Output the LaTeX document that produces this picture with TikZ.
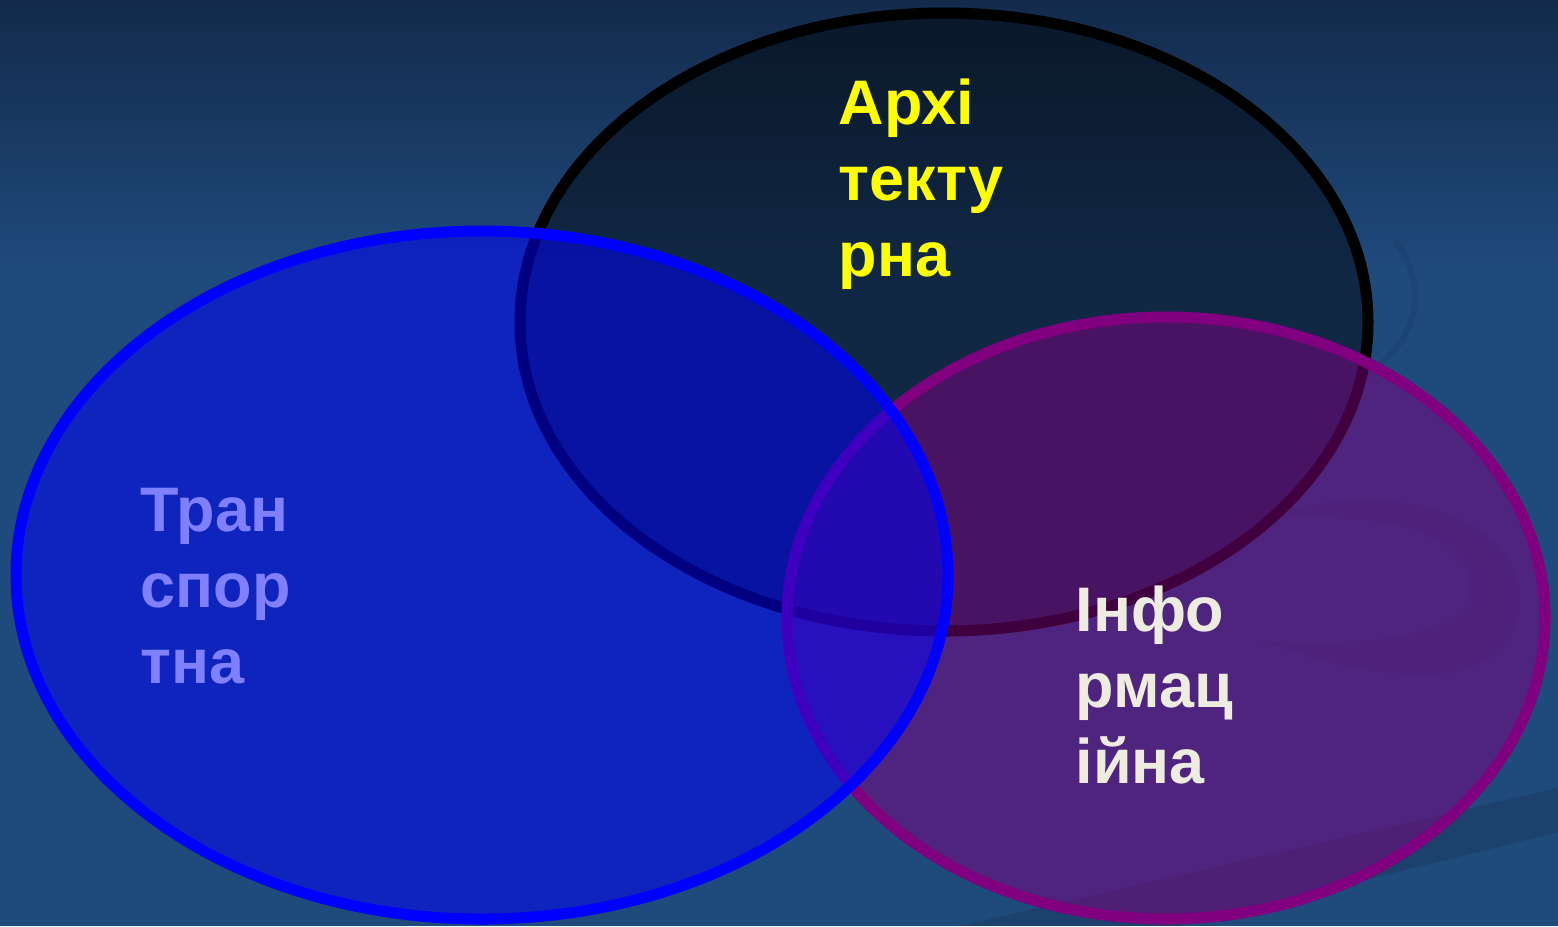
\documentclass[tikz,border=0pt]{standalone}
\usepackage{fontspec}
\setmainfont{Liberation Sans}
\usepackage{tikz}
\usetikzlibrary{positioning}
\definecolor{bgtop}{HTML}{132A4B}
\definecolor{bgmid}{HTML}{1F4A7C}
\definecolor{archcol}{HTML}{FFFF00}
\definecolor{transcol}{HTML}{8080FF}
\definecolor{infocol}{HTML}{EEECE1}
\definecolor{infoline}{HTML}{800080}

\begin{document}
\begin{tikzpicture}[
x=0.01cm, y=-0.01cm,
MyEllipses/.style={line width=1.1mm},
MyLabels/.style={anchor=base west, inner sep=0pt, align=left,
  font=\bfseries\fontsize{17.9pt}{21.6pt}\selectfont},
Swirl/.style={fill=black, fill opacity=0.05, draw=none}
]
% background
\useasboundingbox (0,0) rectangle (1558,926);
\shade[top color=bgtop, bottom color=bgmid] (0,0) rectangle (1558,270);
\fill[bgmid] (0,269) rectangle (1558,926);

% faint swirls of the slide background
\fill[Swirl, fill opacity=0.12] (960,926) -- (1558,788) -- (1558,832) -- (1180,926) -- cycle;
\fill[Swirl] (1250,520) .. controls (1400,470) and (1520,520) .. (1520,600)
  .. controls (1520,680) and (1420,700) .. (1260,640)
  .. controls (1380,650) and (1470,630) .. (1470,590)
  .. controls (1470,530) and (1380,510) .. (1250,520) -- cycle;
\draw[black, opacity=0.06, line width=0.6mm] (1395,240) .. controls (1430,290) and (1420,340) .. (1360,380);

% the three circles
\coordinate (Arch) at (944,322);
\coordinate (Trans) at (482,575);
\coordinate (Info) at (1166,618);

\draw[MyEllipses, draw=black, fill=black, fill opacity=0.45]
  (Arch) ellipse [x radius=424, y radius=309];
\draw[MyEllipses, draw=infoline, fill=infoline, fill opacity=0.5]
  (Info) ellipse [x radius=379, y radius=301];
\draw[MyEllipses, draw=blue, fill=blue, fill opacity=0.5]
  (Trans) ellipse [x radius=466, y radius=344];

% labels (base = baseline of the last line)
\node[MyLabels, text=archcol] (archtext) at (838,276) {Архі\\текту\\рна};
\node[MyLabels, text=transcol] (transtext) at (140,683) {Тран\\спор\\тна};
\node[MyLabels, text=infocol] (infotext) at (1075,783) {Інфо\\рмац\\ійна};

\end{tikzpicture}
\end{document}
